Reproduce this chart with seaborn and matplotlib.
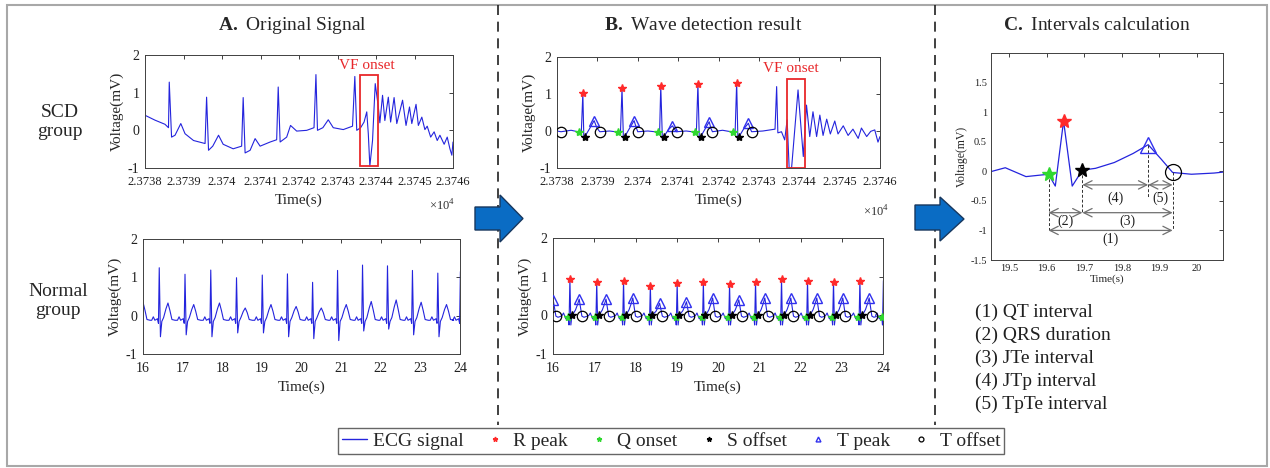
import numpy as np
import matplotlib
matplotlib.use("Agg")
import matplotlib.pyplot as plt
from matplotlib.lines import Line2D
from matplotlib.patches import Rectangle, Polygon
from matplotlib.ticker import FuncFormatter
import seaborn as sns

# === SCD group, raw lead (panel A, top) : time (s) / voltage (mV) ===
scd_raw_time = [23738.00, 23738.26, 23738.52, 23738.61, 23738.63, 23738.69, 23738.78, 23738.93,
                23739.04, 23739.26, 23739.56, 23739.60, 23739.65, 23739.76, 23739.91, 23740.03,
                23740.29, 23740.51, 23740.55, 23740.60, 23740.73, 23740.86, 23740.99, 23741.25,
                23741.42, 23741.46, 23741.51, 23741.68, 23741.78, 23741.94, 23742.20, 23742.39,
                23742.44, 23742.48, 23742.62, 23742.76, 23742.89, 23743.15, 23743.39, 23743.45,
                23743.50, 23743.60, 23743.69, 23743.76, 23743.80, 23743.84, 23743.91, 23743.98,
                23744.06, 23744.10, 23744.17, 23744.23, 23744.32, 23744.38, 23744.47, 23744.54,
                23744.69, 23744.78, 23744.87, 23744.93, 23745.04, 23745.10, 23745.19, 23745.27,
                23745.33, 23745.42, 23745.51, 23745.59, 23745.66, 23745.77, 23745.85, 23745.92,
                23745.97, 23746.00]
scd_raw_volt = [0.40, 0.27, 0.16, 0.07, 1.28, -0.18, -0.13, 0.18,
                -0.09, -0.27, -0.35, 0.88, -0.53, -0.42, -0.13, -0.37,
                -0.49, -0.42, 0.87, -0.60, -0.53, -0.22, -0.42, -0.31,
                -0.25, 1.15, -0.31, -0.18, 0.13, -0.02, 0.00, 0.07,
                1.48, 0.00, 0.07, 0.28, 0.07, 0.02, 0.11, 1.43,
                0.00, 0.07, 0.22, 0.49, -0.09, -0.95, -0.27, 1.24,
                0.62, 0.20, 0.93, 0.26, 0.88, 0.22, 0.87, 0.18,
                0.80, 0.13, 0.62, 0.18, 0.69, 0.13, 0.35, 0.02,
                0.11, -0.18, -0.04, -0.27, -0.13, -0.37, -0.18, -0.49,
                -0.66, -0.31]

# === SCD group, filtered lead (panel B, top): detected fiducial points ===
scd_q_time = [23738.55, 23739.52, 23740.51, 23741.42, 23742.36]
scd_q_volt = [-0.03, -0.03, -0.03, -0.03, -0.03]
scd_r_time = [23738.64, 23739.61, 23740.57, 23741.49, 23742.45]
scd_r_volt = [1.02, 1.15, 1.22, 1.27, 1.31]
scd_s_time = [23738.69, 23739.68, 23740.65, 23741.56, 23742.51]
scd_s_volt = [-0.15, -0.15, -0.15, -0.15, -0.15]
scd_t_time = [23738.92, 23739.91, 23740.86, 23741.77, 23742.74]
scd_t_volt = [0.28, 0.28, 0.14, 0.25, 0.21]
scd_toff_time = [23738.10, 23739.06, 23740.00, 23740.96, 23741.85, 23742.82]
scd_toff_volt = [-0.02, -0.02, -0.02, -0.02, -0.02, -0.02]
# remaining samples of the filtered SCD lead (baseline, Q/S dips, last beat, VF)
scd_filt_time = [23738.00, 23738.35, 23738.60, 23738.665, 23738.80, 23738.99,
                 23739.30, 23739.57, 23739.645, 23739.79, 23739.96,
                 23740.25, 23740.54, 23740.61, 23740.76, 23740.91,
                 23741.20, 23741.45, 23741.525, 23741.67, 23741.81,
                 23742.10, 23742.41, 23742.48, 23742.62, 23742.78,
                 23743.10, 23743.40, 23743.44, 23743.47, 23743.56, 23743.64, 23743.70,
                 23743.75, 23743.81, 23743.97, 23744.10, 23744.18, 23744.26, 23744.34,
                 23744.43, 23744.51, 23744.59, 23744.68, 23744.77, 23744.88, 23744.96,
                 23745.09, 23745.21, 23745.33, 23745.46, 23745.54, 23745.67, 23745.77,
                 23745.87, 23745.95, 23746.00]
scd_filt_volt = [0.00, 0.02, -0.10, -0.22, 0.05, 0.08,
                 0.00, -0.10, -0.22, 0.06, 0.10,
                 0.00, -0.10, -0.22, 0.04, 0.05,
                 0.00, -0.10, -0.22, 0.06, 0.08,
                 0.02, -0.10, -0.22, 0.05, 0.08,
                 0.00, 0.05, 1.20, -0.05, -0.02, -0.24, 0.30,
                 -1.00, -1.00, 1.11, -0.69, 0.70, -0.15, 0.52,
                 -0.15, 0.43, -0.12, 0.32, -0.08, 0.27, -0.08,
                 0.14, -0.12, 0.05, -0.20, 0.08, -0.15, -0.01,
                 0.03, -0.30, -0.15]

# === Normal group: beats (s) and amplitudes (mV) ===
norm_r_time = [15.78, 16.41, 17.06, 17.71, 18.36, 19.01, 19.645, 20.28, 20.91, 21.54, 22.17, 22.80, 23.44, 24.01]
norm_r_raw = [1.20, 1.25, 1.08, 1.19, 0.99, 1.06, 1.09, 0.87, 1.18, 1.32, 1.30, 1.18, 1.11, 1.15]
norm_s_raw = [-0.50, -0.55, -0.50, -0.55, -0.45, -0.45, -0.55, -0.60, -0.65, -0.40, -0.35, -0.50, -0.55, -0.50]
norm_t_raw = [0.35, 0.33, 0.29, 0.33, 0.20, 0.29, 0.24, 0.20, 0.29, 0.37, 0.41, 0.35, 0.29, 0.30]
norm_r_filt = [0.90, 0.94, 0.87, 0.89, 0.77, 0.83, 0.85, 0.80, 0.87, 0.94, 0.89, 0.87, 0.89, 0.90]
norm_t_filt = [0.40, 0.42, 0.42, 0.45, 0.31, 0.35, 0.45, 0.40, 0.45, 0.45, 0.45, 0.45, 0.45, 0.45]

# beat shape of the raw lead: offset from R (s), value, which amplitude scales it
raw_beat_off = [-0.19, -0.15, -0.11, -0.045, -0.02, 0.0, 0.03, 0.065, 0.11, 0.17, 0.22, 0.27, 0.32, 0.40]
raw_beat_val = [-0.12, -0.03, -0.12, -0.08, -0.20, 1.0, 1.0, -0.15, -0.05, 0.55, 1.0, 0.40, -0.10, -0.12]
raw_beat_kind = ['b', 'b', 'b', 'b', 'b', 'r', 's', 'b', 'b', 't', 't', 't', 'b', 'b']

# beat shape of the filtered lead
filt_beat_off = [-0.19, -0.155, -0.10, -0.04, -0.022, 0.0, 0.023, 0.05, 0.085, 0.135, 0.185, 0.225, 0.26, 0.29, 0.34, 0.40]
filt_beat_val = [0.0, 0.06, -0.09, -0.05, -0.25, 1.0, -0.25, 0.02, 0.05, 0.33, 0.67, 1.0, 0.45, -0.02, -0.05, -0.03]
filt_beat_kind = ['b', 'b', 'b', 'b', 'b', 'r', 'b', 'b', 'b', 't', 't', 't', 't', 'b', 'b', 'b']
fid_index = {'Q onset': 3, 'R peak': 5, 'S offset': 7, 'T peak': 11, 'T offset': 13}

interval_labels = ['(1) QT interval', '(2) QRS duration', '(3) JTe interval',
                   '(4) JTp interval', '(5) TpTe interval']

# === Style ===
sns.set_theme(style='white')
plt.rcParams['font.family'] = ['Liberation Serif', 'DejaVu Serif']
plt.rcParams['mathtext.fontset'] = 'custom'
plt.rcParams['mathtext.rm'] = 'Liberation Serif'
plt.rcParams['mathtext.bf'] = 'Liberation Serif:bold'
plt.rcParams['axes.unicode_minus'] = False

ecg_color = '#2424dd'
marker_style = {
    'R peak': dict(marker='*', color='#ff2a2a', ms=6),
    'Q onset': dict(marker='*', color='#2fd82f', ms=6),
    'S offset': dict(marker='*', color='black', ms=6),
    'T peak': dict(marker='^', color='#3030ee', mfc='none', ms=7.5, mew=1.0),
    'T offset': dict(marker='o', color='black', mfc='none', ms=7.5, mew=0.9),
}

W, H = 1270, 468


def fx(px):
    return px / W


def fy(py):
    return 1 - py / H


def box(left, right, top, bottom):
    return [fx(left), fy(bottom), (right - left) / W, (bottom - top) / H]


def build_trace(r_time, amps, offs, vals, kinds):
    t, v = [], []
    for i, rt in enumerate(r_time):
        for o, val, k in zip(offs, vals, kinds):
            t.append(rt + o)
            v.append(val * amps[k][i] if k in amps else val)
    return np.array(t), np.array(v)


def style_axes(ax, fs=10, pad=6):
    ax.tick_params(direction='in', top=True, right=True, length=3, width=0.6,
                   labelsize=fs, pad=pad, colors='#202020')
    for s in ax.spines.values():
        s.set_linewidth(0.7)
        s.set_color('#404040')


def ecg_axes(ax, xlim, xfs=10):
    ax.set_xlim(*xlim)
    ax.set_ylim(-1, 2)
    ax.set_yticks([-1, 0, 1, 2])
    ax.set_xlabel('Time(s)', fontsize=11, labelpad=4)
    ax.set_ylabel('Voltage(mV)', fontsize=11, labelpad=3)
    style_axes(ax)
    ax.tick_params(axis='x', labelsize=xfs)
    ax.tick_params(axis='y', pad=4)


def draw_marks(ax, points, xlim):
    for name, (ts, vs) in points.items():
        ts, vs = np.asarray(ts), np.asarray(vs)
        keep = (ts >= xlim[0]) & (ts <= xlim[1])
        ax.plot(ts[keep], vs[keep], ls='none', zorder=4, **marker_style[name])


# === Build traces ===
raw_t, raw_v = build_trace(norm_r_time, {'r': norm_r_raw, 's': norm_s_raw, 't': norm_t_raw},
                           raw_beat_off, raw_beat_val, raw_beat_kind)
filt_t, filt_v = build_trace(norm_r_time, {'r': norm_r_filt, 't': norm_t_filt},
                             filt_beat_off, filt_beat_val, filt_beat_kind)
n_tpl = len(filt_beat_off)
norm_points = {}
for name, idx in fid_index.items():
    norm_points[name] = (filt_t[idx::n_tpl], filt_v[idx::n_tpl])

scd_points = {
    'R peak': (scd_r_time, scd_r_volt),
    'Q onset': (scd_q_time, scd_q_volt),
    'S offset': (scd_s_time, scd_s_volt),
    'T peak': (scd_t_time, scd_t_volt),
    'T offset': (scd_toff_time, scd_toff_volt),
}
scd_t_all = np.concatenate([scd_filt_time] + [p[0] for p in scd_points.values()])
scd_v_all = np.concatenate([scd_filt_volt] + [p[1] for p in scd_points.values()])
order = np.argsort(scd_t_all)
scd_t_all, scd_v_all = scd_t_all[order], scd_v_all[order]

# === Figure ===
fig = plt.figure(figsize=(W / 100, H / 100), dpi=100)

scd_xlim = (23738, 23746)
norm_xlim = (16, 24)
scd_ticks = list(range(23738, 23747))

axA1 = fig.add_axes(box(145, 453, 55, 168))
axA2 = fig.add_axes(box(143, 460, 239, 354))
axB1 = fig.add_axes(box(557, 880, 57, 168))
axB2 = fig.add_axes(box(553, 883, 238, 354))
axC = fig.add_axes(box(991, 1223, 53, 260))

sns.lineplot(x=scd_raw_time, y=scd_raw_volt, ax=axA1, color=ecg_color, lw=0.8, estimator=None, sort=False)
sns.lineplot(x=raw_t, y=raw_v, ax=axA2, color=ecg_color, lw=0.8, estimator=None, sort=False)
sns.lineplot(x=scd_t_all, y=scd_v_all, ax=axB1, color=ecg_color, lw=0.8, estimator=None, sort=False)
sns.lineplot(x=filt_t, y=filt_v, ax=axB2, color=ecg_color, lw=0.8, estimator=None, sort=False)
sns.lineplot(x=filt_t, y=filt_v, ax=axC, color=ecg_color, lw=0.9, estimator=None, sort=False)

for ax, xl in [(axA1, scd_xlim), (axB1, scd_xlim)]:
    ecg_axes(ax, xl, xfs=9)
    ax.set_xticks(scd_ticks)
    ax.set_xticklabels([f"{t / 1e4:g}" for t in scd_ticks])
for ax in (axA2, axB2):
    ecg_axes(ax, norm_xlim)
    ax.set_xticks(range(16, 25))

draw_marks(axB1, scd_points, scd_xlim)
draw_marks(axB2, norm_points, norm_xlim)

# VF onset boxes
axA1.add_patch(Rectangle((23743.58, -0.95), 0.47, 2.41, fill=False, edgecolor='#e8272a', lw=1.3, zorder=5))
axA1.text(23743.77, 1.72, 'VF onset', color='#e8272a', fontsize=11, ha='center', va='center')
axB1.add_patch(Rectangle((23743.70, -1.0), 0.44, 2.4, fill=False, edgecolor='#e8272a', lw=1.3, zorder=5))
axB1.text(23743.79, 1.70, 'VF onset', color='#e8272a', fontsize=11, ha='center', va='center')

fig.text(fx(442), fy(206), r'$\times10^{4}$', fontsize=9, ha='center', va='center', color='#303030')
fig.text(fx(876), fy(212), r'$\times10^{4}$', fontsize=9, ha='center', va='center', color='#303030')

# === Panel C: one normal beat with interval construction ===
c_xlim = (19.452, 20.069)
axC.set_xlim(*c_xlim)
axC.set_ylim(-1.5, 2.0)
axC.set_yticks([-1.5, -1, -0.5, 0, 0.5, 1, 1.5])
axC.set_xticks([19.5, 19.6, 19.7, 19.8, 19.9, 20.0])
axC.xaxis.set_major_formatter(FuncFormatter(lambda v, _: f"{v:g}"))
axC.yaxis.set_major_formatter(FuncFormatter(lambda v, _: f"{v:g}"))
axC.set_xlabel('Time(s)', fontsize=8, labelpad=1)
axC.set_ylabel('Voltage(mV)', fontsize=8.5, labelpad=2)
style_axes(axC, fs=7.5, pad=3)
big = {k: dict(v, ms=v['ms'] + 4) for k, v in marker_style.items()}
for name, (ts, vs) in norm_points.items():
    ts, vs = np.asarray(ts), np.asarray(vs)
    keep = (ts >= c_xlim[0]) & (ts <= c_xlim[1])
    axC.plot(ts[keep], vs[keep], ls='none', zorder=4, **big[name])

beat = norm_r_time.index(19.645)
tq, tr, ts_, tt, te = [norm_points[k][0][beat] for k in ['Q onset', 'R peak', 'S offset', 'T peak', 'T offset']]
vq, vs_, vt, ve = [norm_points[k][1][beat] for k in ['Q onset', 'S offset', 'T peak', 'T offset']]
dash = dict(ls=(0, (3, 2)), color='#303030', lw=0.7, zorder=2)
axC.plot([tq, tq], [vq, -1.0], **dash)
axC.plot([ts_, ts_], [vs_, -0.7], **dash)
axC.plot([tt, tt], [vt, -0.45], **dash)
axC.plot([te, te], [ve, -1.0], **dash)
arrow = dict(arrowstyle='<->,head_length=0.5,head_width=0.25', color='#707070', lw=0.9,
             shrinkA=0, shrinkB=0)
for x0, x1, y in [(ts_, tt, -0.23), (tt, te, -0.23), (tq, ts_, -0.70), (ts_, te, -0.70), (tq, te, -1.0)]:
    axC.annotate('', xy=(x1, y), xytext=(x0, y), arrowprops=arrow)
for txt, x, y in [('(4)', (ts_ + tt) / 2, -0.46), ('(5)', (tt + te) / 2, -0.46),
                  ('(2)', (tq + ts_) / 2, -0.84), ('(3)', (ts_ + te) / 2, -0.84),
                  ('(1)', (tq + te) / 2, -1.15)]:
    axC.text(x, y, txt, fontsize=10, ha='center', va='center', color='#202020')

for i, lab in enumerate(interval_labels):
    fig.text(fx(975), fy(312 + 23.2 * i), lab, fontsize=14, ha='left', va='center', color='#202020')

# === Titles, group labels ===
fig.text(fx(292), fy(25), r'$\mathbf{A.}$ Original Signal', fontsize=14, ha='center', va='center')
fig.text(fx(703), fy(25), r'$\mathbf{B.}$ Wave detection result', fontsize=14, ha='center', va='center')
fig.text(fx(1097), fy(25), r'$\mathbf{C.}$ Intervals calculation', fontsize=14, ha='center', va='center')
fig.text(fx(60), fy(122), 'SCD\ngroup', fontsize=14, ha='center', va='center', linespacing=1.15)
fig.text(fx(58), fy(301), 'Normal\ngroup', fontsize=14, ha='center', va='center', linespacing=1.15)

# === Frame, separators, arrows ===
fig.add_artist(Rectangle((fx(7), fy(466)), (1267 - 7) / W, (466 - 5) / H, transform=fig.transFigure,
                         fill=False, edgecolor='#a8a8a8', lw=1.5))
for xs in (498, 935):
    fig.add_artist(Line2D([fx(xs), fx(xs)], [fy(5), fy(425)], transform=fig.transFigure,
                          color='#202020', lw=1.2, ls=(0, (6, 4))))


def block_arrow(x0, xh, xt, yb0, yb1, yh0, yh1):
    pts = [(x0, yb0), (xh, yb0), (xh, yh0), (xt, (yh0 + yh1) / 2), (xh, yh1), (xh, yb1), (x0, yb1)]
    return Polygon([(fx(x), fy(y)) for x, y in pts], closed=True, transform=fig.transFigure,
                   facecolor='#0a6cc4', edgecolor='#17375e', lw=1.0, zorder=10)


fig.add_artist(block_arrow(475, 500, 523, 207, 230, 195, 242))
fig.add_artist(block_arrow(915, 940, 964, 205, 230, 197, 241))

# === Legend ===
handles = [Line2D([], [], color=ecg_color, lw=1.0)]
labels = ['ECG signal']
for name in ['R peak', 'Q onset', 'S offset', 'T peak', 'T offset']:
    st = dict(marker_style[name])
    st['ms'] = 3.5
    handles.append(Line2D([], [], ls='none', **st))
    labels.append(name)
fig.legend(handles, labels, loc='center', bbox_to_anchor=(fx(671), fy(441)), ncol=6, fontsize=14,
           frameon=True, fancybox=False, edgecolor='#404040', handlelength=1.3, handletextpad=0.3,
           columnspacing=0.95, borderpad=0.2, borderaxespad=0)

fig.savefig('out.png', dpi=100)
